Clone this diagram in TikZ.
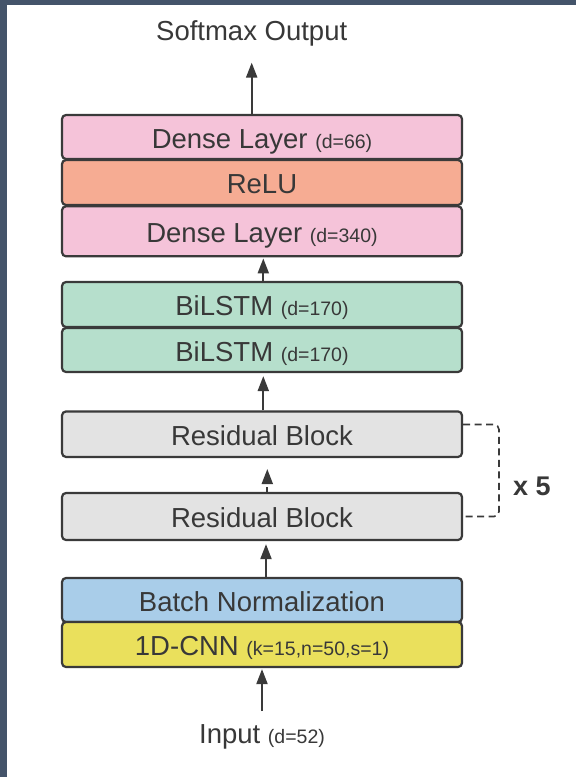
\documentclass[tikz,border=0pt]{standalone}
\usepackage{fontspec}
\setmainfont{Liberation Sans}
\usetikzlibrary{arrows.meta}
\definecolor{framec}{HTML}{44546A}
\definecolor{ink}{HTML}{3A3A3A}
\definecolor{txt}{HTML}{383838}
\definecolor{pinkc}{HTML}{F5C3D9}
\definecolor{reluc}{HTML}{F6AC93}
\definecolor{mintc}{HTML}{B6DFCC}
\definecolor{grayc}{HTML}{E3E3E3}
\definecolor{bluec}{HTML}{A9CDE9}
\definecolor{yelc}{HTML}{EAE05C}
\newcommand{\smtxt}[1]{{\fontsize{19.5}{22}\selectfont #1}}
\begin{document}
\begin{tikzpicture}[x=1pt,y=-1pt,
  layer/.style={draw=ink, line width=2.2pt, rounded corners=4pt, minimum width=400pt,
    inner sep=0pt, text=txt, text height=22pt, text depth=0pt,
    font=\fontsize{27.5}{30}\selectfont},
  lbl/.style={inner sep=0pt, anchor=base, text=txt, font=\fontsize{27.5}{30}\selectfont},
  arr/.style={draw=ink, line width=2pt, -{Triangle[width=11pt,length=15pt]}}
]
\useasboundingbox (0,0) rectangle (576,777);
\fill[framec] (0,0) rectangle (576,777);
\fill[white] (7,5) rectangle (576,777);

\node[layer, fill=pinkc, minimum height=44pt] (dense66) at (262,137) {Dense Layer \smtxt{(d=66)}};
\node[layer, fill=reluc, minimum height=45pt] (relu) at (262,182.5) {ReLU};
\node[layer, fill=pinkc, minimum height=50pt] (dense340) at (262,231.3) {Dense Layer \smtxt{(d=340)}};

\node[layer, fill=mintc, minimum height=45pt] (bilstma) at (262,304.5) {BiLSTM \smtxt{(d=170)}};
\node[layer, fill=mintc, minimum height=44pt] (bilstmb) at (262,350) {BiLSTM \smtxt{(d=170)}};

\node[layer, fill=grayc, minimum height=45.5pt] (resa) at (262,434.2) {Residual Block};
\node[layer, fill=grayc, minimum height=47pt] (resb) at (262,516.5) {Residual Block};

\node[layer, fill=bluec, minimum height=44pt] (bn) at (262,600) {Batch Normalization};
\node[layer, fill=yelc, minimum height=45pt] (cnn) at (262,644.5) {1D-CNN \smtxt{(k=15,n=50,s=1)}};

\node[lbl] (softmax) at (251.7,40.7) {Softmax Output};
\node[lbl] (input) at (262,743.3) {Input \smtxt{(d=52)}};
\node[lbl, font=\fontsize{27}{30}\selectfont\bfseries] (times) at (532,495.5) {x 5};

\draw[arr, shorten >=16pt] (dense66.north -| softmax) -- (softmax.south);
\draw[arr, shorten >=1pt] ([xshift=1.3pt]bilstma.north) -- ([xshift=1.3pt]dense340.south);
\draw[arr, shorten >=3pt] ([xshift=1.3pt]resa.north) -- ([xshift=1.3pt]bilstmb.south);
\draw[arr, dash pattern=on 5pt off 4pt, shorten >=11pt] ([xshift=5.3pt]resb.north) -- ([xshift=5.3pt]resa.south);
\draw[arr, shorten >=3pt] ([xshift=4pt]bn.north) -- ([xshift=4pt]resb.south);
\draw[arr, shorten <=13pt, shorten >=1pt] (input.north -| cnn) -- (cnn.south);

\draw[draw=ink, line width=1.6pt, dash pattern=on 7pt off 4.5pt, rounded corners=5pt]
  ([yshift=9.7pt]resa.east) -- (499,424.5) -- (499,516.5) -- (resb.east);
\end{tikzpicture}
\end{document}
